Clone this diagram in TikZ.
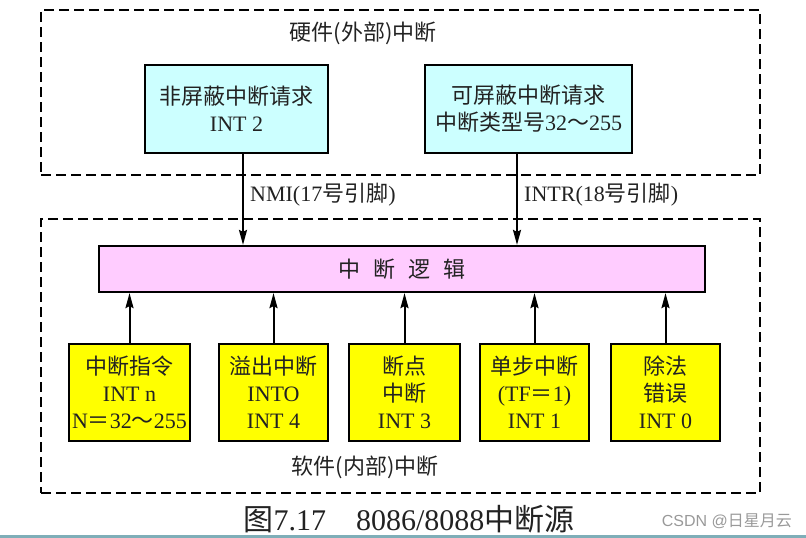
\documentclass[tikz,border=0pt]{standalone}
\usepackage{fontspec}
\setmainfont{Liberation Serif}
\newfontfamily\cjk{Noto Sans CJK SC}
\newfontfamily\wmfont{Liberation Sans}
\usetikzlibrary{arrows.meta}
\definecolor{cyanbox}{HTML}{CCFFFF}
\definecolor{pinkbox}{HTML}{FFCCFF}
\definecolor{yellowbox}{HTML}{FFFF00}
\definecolor{txt}{HTML}{222222}
\definecolor{strip}{HTML}{7FAEB8}
\tikzset{
  boxstyle/.style={draw=black, line width=2.2pt, inner sep=0pt, align=center, text=txt,
    font=\fontsize{22}{27}\selectfont},
  hwbox/.style={boxstyle, fill=cyanbox, minimum height=88pt},
  swbox/.style={boxstyle, fill=yellowbox, minimum height=97pt},
  dashbox/.style={draw=black, line width=2.2pt, dash pattern=on 10pt off 5pt, inner sep=0pt},
  arr/.style={draw=black, line width=2pt, -{Stealth[length=15pt,width=8pt,inset=2pt]}},
  lbl/.style={text=txt, font=\fontsize{22}{26}\selectfont, inner sep=0pt},
}
\begin{document}
\begin{tikzpicture}[x=1pt,y=-1pt]
\useasboundingbox (0,0) rectangle (806,538);
% dashed groups
\node[dashbox, minimum width=719pt, minimum height=165pt] (hw) at (400.5,92.5) {};
\node[dashbox, minimum width=719pt, minimum height=274pt] (sw) at (400.5,356) {};
\node[lbl] (hwl) at (363,33) {\cjk 硬件(外部)中断};
\node[lbl] (swl) at (365,467) {\cjk 软件(内部)中断};
% hardware boxes
\node[hwbox, minimum width=183pt] (c1) at (236.5,109) {{\cjk 非屏蔽中断请求}\\INT 2};
\node[hwbox, minimum width=207pt] (c2) at (528.5,109) {{\cjk 可屏蔽中断请求}\\{\cjk 中断类型号}32{\cjk ～}255};
% logic
\node[boxstyle, fill=pinkbox, minimum width=606pt, minimum height=46pt] (logic) at (402,269) {{\cjk 中\hspace{0.6em}断\hspace{0.6em}逻\hspace{0.6em}辑}};
% software boxes
\node[swbox, minimum width=121pt] (y1) at (129.5,392.5) {{\cjk 中断指令}\\INT n\\N{\cjk ＝}32{\cjk ～}255};
\node[swbox, minimum width=109pt] (y2) at (273.5,392.5) {{\cjk 溢出中断}\\INTO\\INT 4};
\node[swbox, minimum width=111pt] (y3) at (404.5,392.5) {{\cjk 断点}\\{\cjk 中断}\\INT 3};
\node[swbox, minimum width=109pt] (y4) at (534.5,392.5) {{\cjk 单步中断}\\(TF{\cjk ＝}1)\\INT 1};
\node[swbox, minimum width=109pt] (y5) at (665.5,392.5) {{\cjk 除法}\\{\cjk 错误}\\INT 0};
% down arrows
\coordinate (a1) at (243,0);
\coordinate (a2) at (517,0);
\draw[arr] (c1.south -| a1) -- (logic.north -| a1);
\draw[arr] (c2.south -| a2) -- (logic.north -| a2);
\node[lbl, anchor=west] (nmi) at (250,195) {NMI(17{\cjk 号引脚})};
\node[lbl, anchor=west] (intr) at (524,195) {INTR(18{\cjk 号引脚})};
% up arrows
\foreach \n in {y1,y2,y3,y4,y5}{
  \draw[arr] (\n.north) -- (\n.north |- logic.south);
}
% caption
\node[text=txt, font=\fontsize{30}{32}\selectfont, inner sep=0pt] (cap) at (409,519) {{\cjk 图}7.17\hspace{1em}8086/8088{\cjk 中断源}};
\node[text=gray!80, font=\wmfont\fontsize{16}{18}\selectfont, inner sep=0pt, anchor=east] (wm) at (792,521) {CSDN @{\cjk 日星月云}};
\fill[strip] (0,535) rectangle (806,538);
\end{tikzpicture}
\end{document}
